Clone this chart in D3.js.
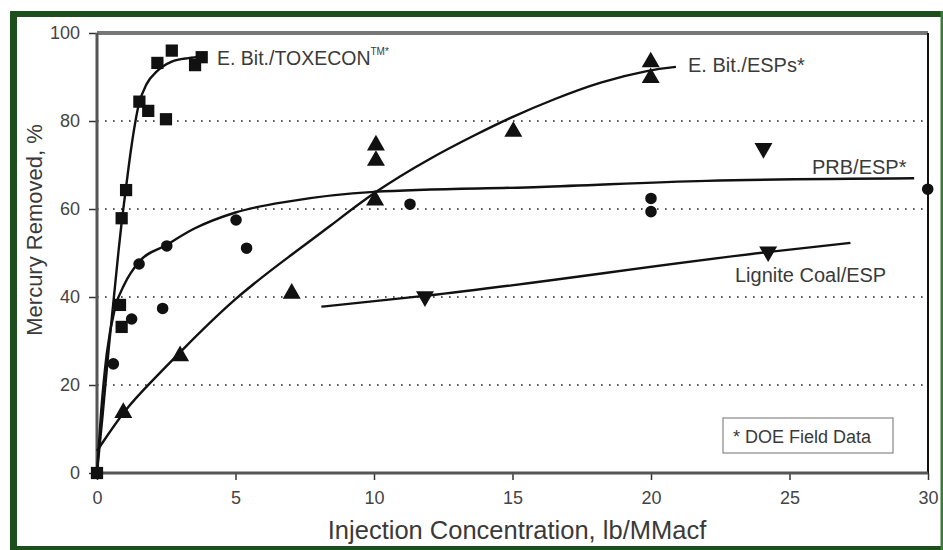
<!DOCTYPE html>
<html><head><meta charset="utf-8">
<script src="https://cdn.jsdelivr.net/npm/d3@7"></script>
<style>html,body{margin:0;padding:0;background:#fff}svg{display:block}text{font-family:"Liberation Sans",Arial,sans-serif}</style>
</head><body><svg id="c" width="943" height="550"></svg>
<script>
// ---- data ----
const xTicks = [0, 5, 10, 15, 20, 25, 30];
const yTicks = [0, 20, 40, 60, 80, 100];
const gridValues = [20, 40, 60, 80];

// E. Bit./TOXECON (squares)
const toxeconX = [0, 0.89, 0.83, 0.89, 1.05, 1.53, 1.85, 2.49, 2.18, 2.70, 3.54, 3.78];
const toxeconY = [0, 33.2, 38.2, 57.9, 64.3, 84.4, 82.3, 80.4, 93.2, 96.0, 92.7, 94.5];
const toxeconFitX = [0, 0.2, 0.43, 0.77, 0.9, 1.0, 1.25, 1.5, 1.8, 2.15, 2.7, 3.3, 3.8];
const toxeconFitY = [0, 13, 28.7, 50, 57.5, 62.5, 74.5, 83.5, 88.5, 91.2, 93.5, 94.3, 94.6];

// PRB/ESP (circles)
const prbX = [0.59, 1.25, 2.37, 1.52, 2.52, 5.02, 5.40, 11.3, 20.0, 20.0, 29.99];
const prbY = [24.8, 35.0, 37.4, 47.5, 51.6, 57.5, 51.1, 61.1, 62.4, 59.4, 64.5];
const prbFitX = [0, 0.15, 0.35, 0.65, 1.0, 1.52, 2.5, 3.5, 5.0, 7, 10, 16, 22, 29.5];
const prbFitY = [0, 14, 27, 37.5, 43, 48, 51.8, 55.5, 59.2, 61.8, 63.9, 65, 66.4, 67];

// E. Bit./ESPs (triangles up)
const espX = [0.95, 3.0, 7.03, 10.04, 10.07, 10.07, 15.03, 19.99, 19.99];
const espY = [13.7, 26.6, 40.8, 62, 74.5, 71, 77.6, 93.4, 89.8];
const espFitX = [0, 1, 2, 3, 5, 7, 8.4, 10, 12, 13.7, 15, 16.5, 18.2, 20, 20.9];
const espFitY = [5, 14.5, 21, 27.5, 40, 49.5, 56, 63.9, 71.5, 77, 81, 85, 89, 91.7, 92.3];

// Lignite Coal/ESP (triangles down)
const ligX = [11.84, 24.23, 24.06];
const ligY = [40.1, 50.3, 73.8];
const ligFitX = [8.1, 11.9, 24.2, 27.2];
const ligFitY = [37.8, 40.3, 50.2, 52.3];

const labels = ["E. Bit./TOXECON", "E. Bit./ESPs*", "PRB/ESP*", "Lignite Coal/ESP", "* DOE Field Data"];
const xTitle = "Injection Concentration, lb/MMacf";
const yTitle = "Mercury Removed, %";

// ---- drawing ----
const svg = d3.select("#c");
const x = d3.scaleLinear().domain([0, 30]).range([97, 928]);
const y = d3.scaleLinear().domain([0, 100]).range([473, 33]);
const green = "#1d4f1d";

// frame
svg.append("rect").attr("x", 10).attr("y", 11).attr("width", 933).attr("height", 6).attr("fill", green);
svg.append("rect").attr("x", 10).attr("y", 11).attr("width", 7).attr("height", 539).attr("fill", green);
svg.append("rect").attr("x", 10).attr("y", 546).attr("width", 933).attr("height", 4).attr("fill", green);
svg.append("rect").attr("x", 940.5).attr("y", 11).attr("width", 2.5).attr("height", 539).attr("fill", "#3d7a3d");

// grid
svg.append("g").selectAll("line").data(gridValues).join("line")
  .attr("x1", x(0)).attr("x2", x(30)).attr("y1", d => y(d)).attr("y2", d => y(d))
  .attr("stroke", "#222").attr("stroke-width", 1.6).attr("stroke-dasharray", "1.6,6.4");

// axes
const ax = svg.append("g").attr("transform", `translate(0,${y(0)})`)
  .call(d3.axisBottom(x).tickValues(xTicks).tickSize(7).tickPadding(11).tickFormat(d3.format("d")));
const ay = svg.append("g").attr("transform", `translate(${x(0)},0)`)
  .call(d3.axisLeft(y).tickValues(yTicks).tickSize(8).tickPadding(9).tickFormat(d3.format("d")));
[ax, ay].forEach(g => {
  g.select(".domain").remove();
  g.selectAll(".tick line").attr("stroke", "#333").attr("stroke-width", 1.5);
  g.selectAll(".tick text").attr("fill", "#444").style("font-size", "18px");
});
// axis lines
svg.append("line").attr("x1", x(0)).attr("x2", x(30)).attr("y1", y(100)).attr("y2", y(100)).attr("stroke", "#777").attr("stroke-width", 4);
svg.append("line").attr("x1", x(30)).attr("x2", x(30)).attr("y1", y(100)).attr("y2", y(0)).attr("stroke", "#111").attr("stroke-width", 2);
svg.append("line").attr("x1", x(0)).attr("x2", x(0)).attr("y1", y(100)).attr("y2", y(0)).attr("stroke", "#555").attr("stroke-width", 3);
svg.append("line").attr("x1", x(0)).attr("x2", x(30)).attr("y1", y(0)).attr("y2", y(0)).attr("stroke", "#555").attr("stroke-width", 3);

// fits
const zip = (a, b) => a.map((v, i) => [v, b[i]]);
const fits = [
  [toxeconFitX, toxeconFitY, d3.curveMonotoneX],
  [prbFitX, prbFitY, d3.curveMonotoneX],
  [espFitX, espFitY, d3.curveBasis],
  [ligFitX, ligFitY, d3.curveMonotoneX]
];
svg.append("g").selectAll("path").data(fits).join("path")
  .attr("d", f => d3.line().x(d => x(d[0])).y(d => y(d[1])).curve(f[2])(zip(f[0], f[1])))
  .attr("fill", "none").attr("stroke", "#111").attr("stroke-width", 2.4);

// markers
const sym = (type, size) => d3.symbol().type(type).size(size)();
const mk = svg.append("g").attr("fill", "#111");
mk.selectAll(".sq").data(zip(toxeconX, toxeconY)).join("path")
  .attr("transform", d => `translate(${x(d[0])},${y(d[1])})`).attr("d", sym(d3.symbolSquare, 150));
mk.selectAll(".ci").data(zip(prbX, prbY)).join("path")
  .attr("transform", d => `translate(${x(d[0])},${y(d[1])})`).attr("d", sym(d3.symbolCircle, 105));
mk.selectAll(".tu").data(zip(espX, espY)).join("path")
  .attr("transform", d => `translate(${x(d[0])},${y(d[1])})`).attr("d", sym(d3.symbolTriangle, 140));
mk.selectAll(".td").data(zip(ligX, ligY)).join("path")
  .attr("transform", d => `translate(${x(d[0])},${y(d[1])}) rotate(180)`).attr("d", sym(d3.symbolTriangle, 140));

// labels
const lab = (t, px, py, fs) => svg.append("text").attr("x", px).attr("y", py)
  .attr("fill", "#3a3a3a").style("font-size", fs + "px").text(t);
const tox = lab(labels[0], 217, 65, 19.5);
tox.append("tspan").attr("dy", -10).style("font-size", "10px").text("TM*");
lab(labels[1], 688, 72, 20);
lab(labels[2], 812, 174, 20);
lab(labels[3], 735, 282, 20);

// DOE box
svg.append("rect").attr("x", 723).attr("y", 418).attr("width", 170).attr("height", 35)
  .attr("fill", "#fff").attr("stroke", "#888").attr("stroke-width", 1.2);
lab(labels[4], 733, 443, 18);

// titles
svg.append("text").attr("x", 517).attr("y", 539).attr("text-anchor", "middle")
  .attr("fill", "#3a3a3a").style("font-size", "25.5px").text(xTitle);
svg.append("text").attr("transform", "translate(42,230) rotate(-90)").attr("text-anchor", "middle")
  .attr("fill", "#3a3a3a").style("font-size", "22px").text(yTitle);
</script></body></html>
